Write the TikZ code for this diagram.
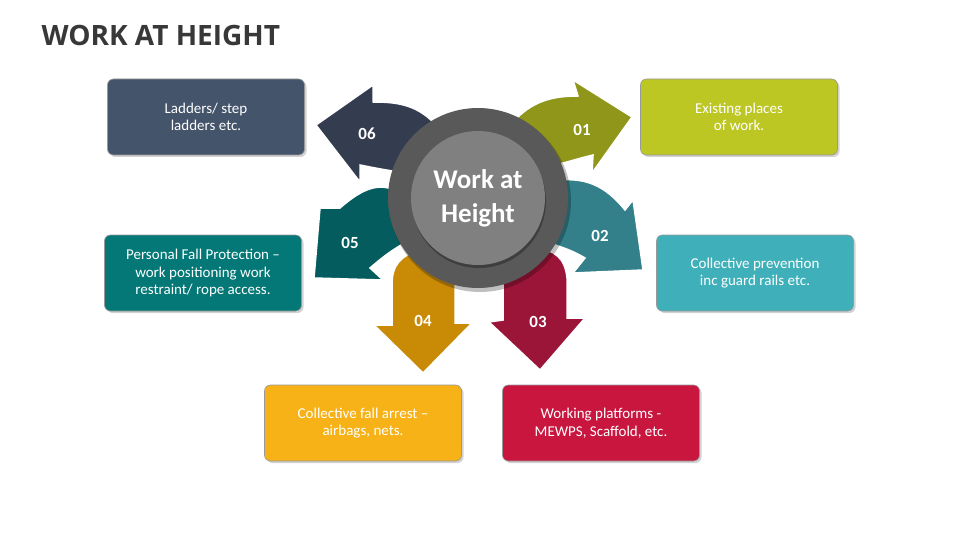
\documentclass[tikz,border=0pt]{standalone}
\usepackage{fontspec}
\setmainfont{Carlito}
\newfontfamily\titlefont{Open Sans}
\usetikzlibrary{shadows}
\definecolor{cA}{HTML}{8F961A}\definecolor{bA}{HTML}{BDC723}
\definecolor{cB}{HTML}{34808A}\definecolor{bB}{HTML}{3FB0B9}
\definecolor{cC}{HTML}{9B1538}\definecolor{bC}{HTML}{C8163F}
\definecolor{cD}{HTML}{C98A06}\definecolor{bD}{HTML}{F7B217}
\definecolor{cE}{HTML}{045C5E}\definecolor{bE}{HTML}{037876}
\definecolor{cF}{HTML}{333D4F}\definecolor{bF}{HTML}{44546A}
\tikzset{
 arr/.style={draw=white,line width=1.5pt,line join=miter},
 num/.style={text=white,font=\bfseries\fontsize{17}{17}\selectfont},
 infobox/.style={rounded corners=6pt,minimum width=197pt,minimum height=76pt,text=white,align=center,font=\fontsize{15}{17.5}\selectfont,draw=black!40,line width=0.6pt,drop shadow={shadow xshift=2pt,shadow yshift=-2pt,opacity=0.35}},
}
\begin{document}
\begin{tikzpicture}[x=1pt,y=-1pt]
\useasboundingbox (0,0) rectangle (960,540);
\fill[white] (0,0) rectangle (960,540);
\node[anchor=west,font=\titlefont\bfseries\fontsize{28}{30}\selectfont,text=black!78] (title) at (38,35) {WORK AT HEIGHT};
% arrows
\fill[cF,arr] (433,122) .. controls (415,104) and (395,102) .. (373,102) -- (373,85) -- (316,125) -- (360,182) -- (360,165) .. controls (375,168) and (385,170) .. (400,172) -- cycle;
\fill[cA,arr] (517,118) .. controls (535,100) and (555,96) .. (578,96) -- (573,80) -- (632,117) -- (592,173) -- (593,155) .. controls (580,158) and (568,162) .. (555,165) -- cycle;
\fill[cE,arr] (395,190) .. controls (380,184) and (365,186) .. (340,208) -- (320,208) -- (314,278) -- (383,280) -- (370,268) .. controls (385,255) and (395,248) .. (410,240) -- cycle;
\fill[cB,arr] (560,180) .. controls (585,178) and (605,185) .. (625,210) -- (633,200) -- (643,270) -- (573,273) -- (585,258) .. controls (575,252) and (565,248) .. (552,244) -- cycle;
\fill[cD,arr] (420,250) .. controls (400,256) and (392,265) .. (392,285) -- (392,325) -- (374,325) -- (423,373) -- (472,323) -- (455,323) -- (455,262) -- cycle;
\fill[cC,arr] (500,262) -- (503,285) -- (503,320) -- (489,322) -- (540,370) -- (585,318) -- (567,318) -- (567,278) .. controls (565,258) and (555,250) .. (535,248) -- cycle;
% center
\fill[black,opacity=0.25] (480,201) circle (91);
\node[circle,fill=black!65,minimum size=180pt,inner sep=0] (outer) at (478,198) {};
\fill[black,opacity=0.3] (479,201) circle (67);
\node[circle,fill=black!50,minimum size=134pt,inner sep=0,text=white,align=center,font=\bfseries\fontsize{27}{34}\selectfont] (center) at (478,198) {Work at\\Height};
\node[num] (n1) at (582,130) {01};
\node[num] (n2) at (600,236) {02};
\node[num] (n3) at (538,322) {03};
\node[num] (n4) at (423,321) {04};
\node[num] (n5) at (350,243) {05};
\node[num] (n6) at (367,134) {06};
% boxes
\node[infobox,fill=bF] (b6) at (206,117) {Ladders/ step\\ladders etc.};
\node[infobox,fill=bA] (b1) at (739,117) {Existing places\\of work.};
\node[infobox,fill=bE] (b5) at (203,273) {Personal Fall Protection –\\work positioning work\\restraint/ rope access.};
\node[infobox,fill=bB] (b2) at (755,273) {Collective prevention\\inc guard rails etc.};
\node[infobox,fill=bD] (b4) at (363,423) {Collective fall arrest –\\airbags, nets.};
\node[infobox,fill=bC] (b3) at (601,423) {Working platforms -\\MEWPS, Scaffold, etc.};
\end{tikzpicture}
\end{document}
